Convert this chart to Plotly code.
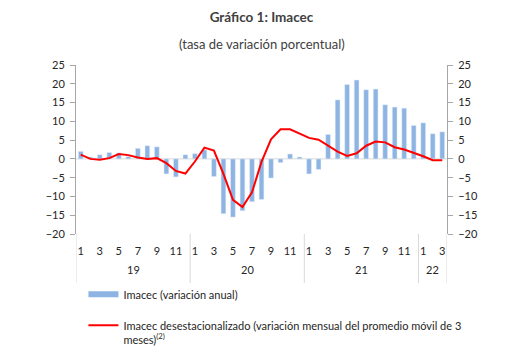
import plotly.graph_objects as go

months = [1,2,3,4,5,6,7,8,9,10,11,12]*3 + [1,2,3]
years = ["19"]*12 + ["20"]*12 + ["21"]*12 + ["22"]*3
imacec_anual = [2.0, 0.5, 1.1, 1.7, 1.6, 0.6, 2.8, 3.5, 3.2, -4.0, -4.8, 1.1,
                1.4, 2.4, -4.7, -14.6, -15.5, -13.8, -11.4, -10.8, -5.1, -1.0, 1.3, 0.5,
                -4.0, -2.8, 6.5, 15.7, 19.8, 21.0, 18.4, 18.6, 14.4, 13.8, 13.5, 8.9,
                9.6, 6.7, 7.2]
imacec_desest = [1.15, 0.0, -0.2, 0.2, 1.3, 1.0, 0.35, 0.0, 0.2, -1.15, -3.2, -3.9,
                 -0.7, 3.0, 2.2, -4.0, -10.9, -12.8, -8.9, -0.8, 5.2, 7.9, 7.9, 6.65,
                 5.6, 5.1, 3.6, 1.95, 0.8, 1.5, 3.5, 4.6, 4.4, 3.1, 2.5, 1.7,
                 0.7, -0.35, -0.35]
y_ticks = [25, 20, 15, 10, 5, 0, -5, -10, -15, -20]

name_bar = "Imacec (variación anual)"
name_line = "Imacec desestacionalizado (variación mensual del promedio móvil de 3<br>meses)<sup>(2)</sup>"

BLUE = "#8DB4E2"
RED = "#FF0000"
FONT = "Lato"
TXT = "#262626"

# page has an 8px body margin: figure is drawn 8px right/down
W, H = 514, 355
PLOT_TOP, PLOT_H = 57, 169  # in figure px

n = len(months)
xs = list(range(n))

fig = go.Figure()
fig.add_trace(go.Bar(x=xs, y=imacec_anual, marker_color=BLUE, width=0.5,
                     showlegend=False, name=name_bar))
fig.add_trace(go.Scatter(x=xs, y=imacec_desest, mode="lines",
                         line=dict(color=RED, width=2), showlegend=False,
                         name=name_line, yaxis="y2"))
# legend entries
fig.add_trace(go.Scatter(x=[None], y=[None], mode="lines",
                         line=dict(color=BLUE, width=6), name=name_bar,
                         legendgroup="a"))
fig.add_trace(go.Scatter(x=[None], y=[None], mode="lines",
                         line=dict(color=RED, width=2), name=name_line,
                         legendgroup="b"))

groups = []
start = 0
for i in range(1, n + 1):
    if i == n or years[i] != years[start]:
        groups.append((years[start], start, i - 1))
        start = i

shapes = []
annotations = []
for lab, s, e in groups:
    annotations.append(dict(x=(s + e) / 2, y=-0.213, xref="x", yref="paper",
                            text=lab, showarrow=False, yanchor="middle",
                            font=dict(family=FONT, size=11, color=TXT)))
    shapes.append(dict(type="line", xref="x", yref="paper", x0=s - 0.5, x1=s - 0.5,
                       y0=0, y1=-0.29, line=dict(color="#D9D9D9", width=1)))
shapes.append(dict(type="line", xref="x", yref="paper", x0=n - 0.5, x1=n - 0.5,
                   y0=0, y1=-0.29, line=dict(color="#D9D9D9", width=1)))

annotations.append(dict(x=0.5, y=(234 - 44) / PLOT_H, xref="paper", yref="paper",
                        text="(tasa de variación porcentual)", showarrow=False,
                        yanchor="middle", font=dict(family=FONT, size=13, color="#404040")))

tickvals = [i for i in xs if months[i] % 2 == 1]
ticktext = [str(months[i]) for i in tickvals]

axis_y = dict(range=[-20, 25], tickvals=y_ticks, showgrid=False, zeroline=False,
              showline=True, linecolor="#A6A6A6", linewidth=1, ticks="outside",
              ticklen=5, tickcolor="#A6A6A6", ticklabelstandoff=3,
              tickfont=dict(family=FONT, size=11, color=TXT), fixedrange=True)

fig.update_layout(
    width=W, height=H,
    margin=dict(l=68, r=75, t=PLOT_TOP, b=H - PLOT_TOP - PLOT_H, autoexpand=False),
    paper_bgcolor="white", plot_bgcolor="white",
    title=dict(text="<b>Gráfico 1: Imacec</b>", x=0.5, xanchor="center",
               y=1 - 9 / H, yanchor="middle", xref="paper",
               font=dict(family=FONT, size=13.5, color="#404040")),
    xaxis=dict(range=[-0.5, n - 0.5], tickvals=tickvals, ticktext=ticktext,
               showgrid=False, zeroline=False, showline=False, ticks="outside",
               ticklen=7, tickcolor="rgba(0,0,0,0)",
               tickfont=dict(family=FONT, size=11, color=TXT)),
    yaxis=axis_y,
    yaxis2=dict(axis_y, overlaying="y", side="right"),
    shapes=shapes + [dict(type="line", xref="paper", yref="y", x0=0, x1=1, y0=0, y1=0,
                          line=dict(color="#D9D9D9", width=1), layer="below")],
    annotations=annotations,
    legend=dict(x=0.02, xanchor="left", y=-0.276, yanchor="top", valign="top",
                tracegroupgap=12, bgcolor="rgba(0,0,0,0)",
                font=dict(family=FONT, size=11, color=TXT)),
    bargap=0.5,
)

fig.write_html("out.html")
